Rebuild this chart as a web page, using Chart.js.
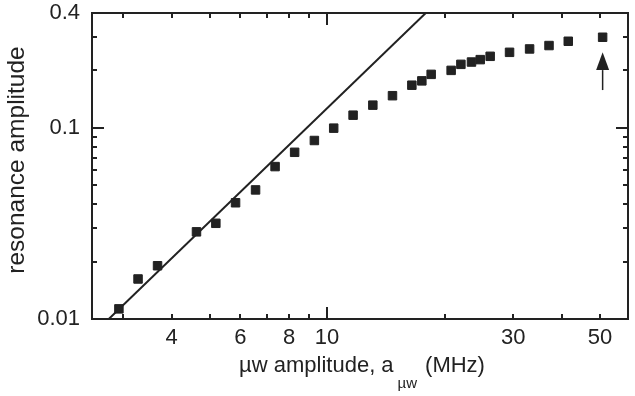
<!DOCTYPE html>
<html><head><meta charset="utf-8">
<script src="https://cdn.jsdelivr.net/npm/chart.js@4/dist/chart.umd.min.js"></script>
<style>html,body{margin:0;padding:0;background:#fff}#c{display:block}</style>
</head><body><canvas id="c" width="635" height="396"></canvas>
<script>
// ---- data ----
const amplitudeMHz = [2.93,3.28,3.68,4.63,5.19,5.83,6.56,7.36,8.26,9.28,10.40,11.66,13.10,14.71,16.49,17.49,18.48,20.79,22.02,23.44,24.68,26.17,29.34,33.02,37.03,41.48,50.8];
const resonanceAmp = [0.0113,0.0162,0.0190,0.0286,0.0317,0.0406,0.0474,0.0628,0.0746,0.0860,0.0998,0.1167,0.1317,0.1476,0.1675,0.1765,0.1909,0.2003,0.2154,0.2215,0.2280,0.2373,0.2490,0.2593,0.2702,0.2845,0.2986];
const fitLineX = [2.76, 17.9];
const fitLineY = [0.01, 0.4];
const xTickLabels = [4, 6, 8, 10, 30, 50];
const xMinorTicks = [3, 4, 5, 6, 7, 8, 9, 20, 30, 40, 50];
const xMajorTicks = [10];
const yTickLabels = [0.01, 0.1, 0.4];
const yMinorTicks = [0.02, 0.03, 0.04, 0.05, 0.06, 0.07, 0.08, 0.09, 0.2, 0.3];
const yMajorTicks = [0.1];
const arrowX = 50.8, arrowTipY = 0.249, arrowHeadBaseY = 0.201, arrowTailY = 0.158;
const xRange = [2.5, 59];
const yRange = [0.01, 0.4];

const INK = '#222';
const FONT = '"Liberation Sans", Arial, Helvetica, sans-serif';

const framePlugin = {
  id: 'frame',
  afterDatasetsDraw(chart) {
    const {ctx, chartArea: a, scales: {x, y}} = chart;
    ctx.save();
    ctx.strokeStyle = INK;
    ctx.lineWidth = 2;
    ctx.strokeRect(a.left, a.top, a.right - a.left, a.bottom - a.top);
    const tick = (vals, len) => {
      vals.forEach(v => {
        const px = Math.round(x.getPixelForValue(v));
        ctx.beginPath();
        ctx.moveTo(px, a.bottom); ctx.lineTo(px, a.bottom - len);
        ctx.moveTo(px, a.top); ctx.lineTo(px, a.top + len);
        ctx.stroke();
      });
    };
    const ytick = (vals, len) => {
      vals.forEach(v => {
        const py = Math.round(y.getPixelForValue(v));
        ctx.beginPath();
        ctx.moveTo(a.left, py); ctx.lineTo(a.left + len, py);
        ctx.moveTo(a.right, py); ctx.lineTo(a.right - len, py);
        ctx.stroke();
      });
    };
    tick(xMinorTicks, 5); tick(xMajorTicks, 12);
    ytick(yMinorTicks, 5); ytick(yMajorTicks, 12);

    // arrow
    const ax = x.getPixelForValue(arrowX);
    const tip = y.getPixelForValue(arrowTipY);
    const base = y.getPixelForValue(arrowHeadBaseY);
    const tail = y.getPixelForValue(arrowTailY);
    ctx.lineWidth = 1.5;
    ctx.beginPath(); ctx.moveTo(ax, tail); ctx.lineTo(ax, base); ctx.stroke();
    ctx.fillStyle = INK;
    ctx.beginPath(); ctx.moveTo(ax, tip); ctx.lineTo(ax - 6.5, base); ctx.lineTo(ax + 6.5, base); ctx.closePath(); ctx.fill();

    // axis titles
    ctx.fillStyle = INK;
    ctx.textBaseline = 'alphabetic';
    const f1 = '22px ' + FONT, f2 = '15px ' + FONT;
    ctx.font = f1;
    const p1 = '\u00b5w amplitude, a', p3 = '(MHz)', p2 = '\u00b5w';
    const w1 = ctx.measureText(p1).width, w3 = ctx.measureText(p3).width;
    ctx.font = f2; const w2 = ctx.measureText(p2).width;
    const total = w1 + w2 + w3 + 12;
    let sx = 362 - total / 2;
    ctx.font = f1; ctx.textAlign = 'left';
    ctx.fillText(p1, sx, 372);
    ctx.font = f2; ctx.fillText(p2, sx + w1 + 4, 388);
    ctx.font = f1; ctx.fillText(p3, sx + w1 + w2 + 12, 372);

    ctx.save();
    ctx.translate(24, 160);
    ctx.rotate(-Math.PI / 2);
    ctx.font = '24.5px ' + FONT;
    ctx.textAlign = 'center';
    ctx.fillText('resonance amplitude', 0, 0);
    ctx.restore();
    ctx.restore();
  }
};

new Chart(document.getElementById('c'), {
  type: 'scatter',
  data: {
    datasets: [
      {
        label: 'data',
        data: amplitudeMHz.map((v, i) => ({x: v, y: resonanceAmp[i]})),
        pointStyle: 'rect',
        pointRadius: 6,
        backgroundColor: INK,
        borderColor: INK,
        borderWidth: 1,
        showLine: false
      },
      {
        label: 'fit',
        data: fitLineX.map((v, i) => ({x: v, y: fitLineY[i]})),
        showLine: true,
        pointRadius: 0,
        borderColor: INK,
        borderWidth: 2,
        fill: false
      }
    ]
  },
  options: {
    responsive: false,
    animation: false,
    layout: {padding: {left: 0, top: 13, right: 7, bottom: 0}},
    plugins: {legend: {display: false}, tooltip: {enabled: false}},
    scales: {
      x: {
        type: 'logarithmic',
        min: xRange[0], max: xRange[1],
        grid: {display: false, drawTicks: false},
        border: {display: false},
        afterBuildTicks: s => { s.ticks = xTickLabels.map(v => ({value: v})); },
        afterFit: s => { s.height = 77; s.paddingLeft = 0; s.paddingRight = 0; },
        ticks: {
          autoSkip: false, maxRotation: 0,
          padding: 6,
          color: INK,
          font: {family: FONT, size: 22},
          callback: v => String(v)
        }
      },
      y: {
        type: 'logarithmic',
        min: yRange[0], max: yRange[1],
        grid: {display: false, drawTicks: false},
        border: {display: false},
        afterBuildTicks: s => { s.ticks = yTickLabels.map(v => ({value: v})); },
        afterFit: s => { s.width = 92; s.paddingTop = 0; s.paddingBottom = 0; },
        ticks: {
          autoSkip: false,
          padding: 12,
          color: INK,
          font: {family: FONT, size: 22},
          callback: v => String(v)
        }
      }
    }
  },
  plugins: [framePlugin]
});
</script>
</body></html>
